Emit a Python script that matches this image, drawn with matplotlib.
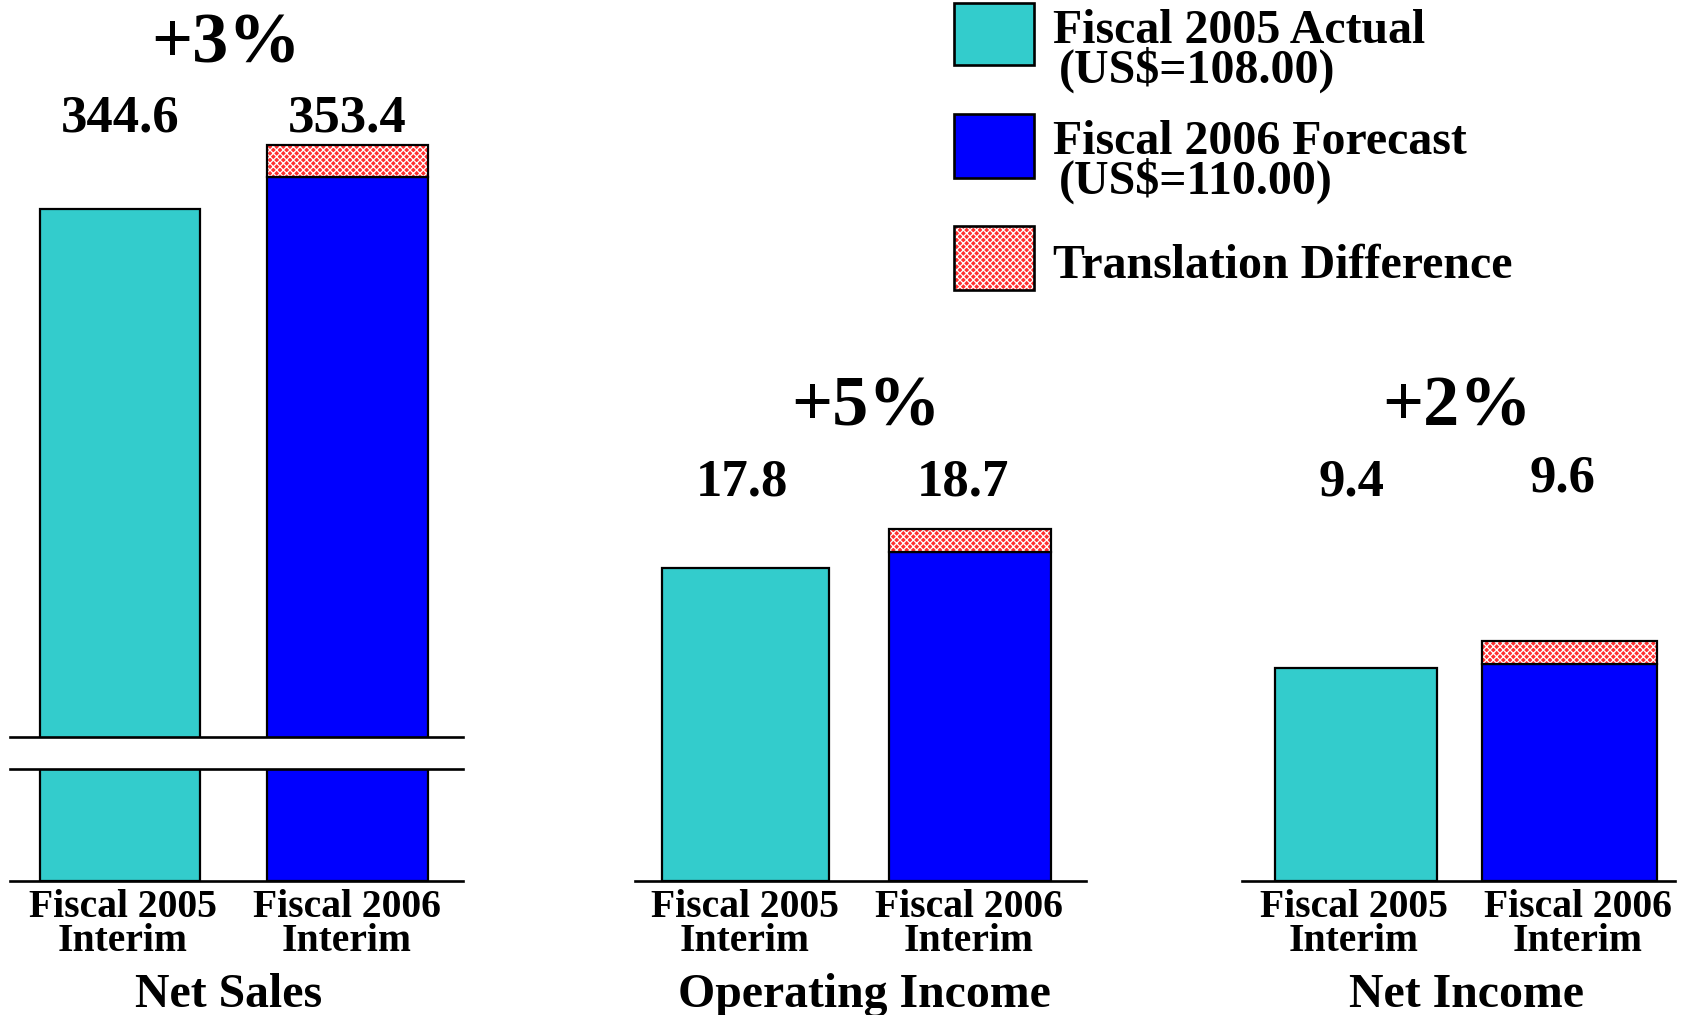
import matplotlib
matplotlib.use("Agg")
import matplotlib.pyplot as plt
from matplotlib.patches import Rectangle

# ---------------- data ----------------
panels = ["Net Sales", "Operating Income", "Net Income"]
bar_labels = ["Fiscal 2005\nInterim", "Fiscal 2006\nInterim"]
actual_2005 = [344.6, 17.8, 9.4]
forecast_2006 = [353.4, 18.7, 9.6]
translation_diff = [8.8, 1.3, 1.0]
growth = ["+3%", "+5%", "+2%"]
legend_labels = [("Fiscal 2005 Actual", "(US$=108.00)"),
                 ("Fiscal 2006 Forecast", "(US$=110.00)"),
                 ("Translation Difference", None)]

TEAL = "#33CCCC"
BLUE = "#0000FF"
RED = "#FF3030"

plt.rcParams["font.family"] = ["Liberation Serif", "DejaVu Serif"]
plt.rcParams["font.weight"] = "bold"
plt.rcParams["hatch.linewidth"] = 0.9

fig = plt.figure(figsize=(16.9, 10.15), dpi=100)
W, H = 1690.0, 1015.0
EDGE_LW = 1.6
SPINE_LW = 1.9


def rect(x0, y0, x1, y1):
    return [x0 / W, 1 - y1 / H, (x1 - x0) / W, (y1 - y0) / H]


def fx(x):
    return x / W


def fy(y):
    return 1 - y / H


def style(ax, spines):
    for s in ["top", "bottom", "left", "right"]:
        ax.spines[s].set_visible(s in spines)
        ax.spines[s].set_linewidth(SPINE_LW)
    ax.set_xticks([])
    ax.set_yticks([])
    ax.patch.set_alpha(0)


def draw_bars(ax, i, widths):
    xs = [0, 1]
    ax.bar(xs[0], actual_2005[i], widths[0], color=TEAL, edgecolor="black", linewidth=EDGE_LW, zorder=2)
    ax.bar(xs[1], forecast_2006[i], widths[1], color=BLUE, edgecolor="black", linewidth=EDGE_LW, zorder=2)
    ax.bar(xs[1], translation_diff[i], widths[1], bottom=forecast_2006[i], color=RED,
           edgecolor="white", hatch="xxxxx", linewidth=0, zorder=3)
    ax.bar(xs[1], translation_diff[i], widths[1], bottom=forecast_2006[i], fill=False,
           edgecolor="black", linewidth=EDGE_LW, zorder=4)


# ---- Net Sales: broken axis (two stacked axes) ----
k = 8.8 / 32.0  # value per pixel in the upper part
ax_top = fig.add_axes(rect(10, 40, 463, 736.7))
ax_top.set_xlim(-0.4835, 1.5077)
ax_top.set_ylim(344.6 - (736.7 - 208.7) * k, 344.6 + (208.7 - 40) * k)
draw_bars(ax_top, 0, (0.705, 0.705))
style(ax_top, ["bottom"])

ax_bot = fig.add_axes(rect(10, 768.7, 463, 880.7))
ax_bot.set_xlim(-0.4835, 1.5077)
ax_bot.set_ylim(0, 1)
draw_bars(ax_bot, 0, (0.705, 0.705))
style(ax_bot, ["top", "bottom"])

# ---- Operating Income ----
ax_oi = fig.add_axes(rect(635, 300, 1086, 880.5))
ax_oi.set_xlim(-0.492, 1.517)
ax_oi.set_ylim(0, 580.5 / 17.58)
draw_bars(ax_oi, 1, (0.74, 0.72))
style(ax_oi, ["bottom"])

# ---- Net Income ----
ax_ni = fig.add_axes(rect(1242, 300, 1675, 880.5))
ax_ni.set_xlim(-0.534, 1.494)
ax_ni.set_ylim(0, 580.5 / 22.6)
draw_bars(ax_ni, 2, (0.76, 0.82))
style(ax_ni, ["bottom"])

# ---- texts ----
pct_pos = [(226, 62), (866, 425), (1457, 425.7)]
val_pos = [((120, 131.7), (347.5, 131.7)), ((742, 495), (962.5, 495)), ((1351.5, 495), (1562.5, 491.7))]
lab_x = [(123, 347), (745, 969), (1354, 1578)]
title_x = [228.5, 864, 1467]

for i in range(3):
    fig.text(fx(pct_pos[i][0]), fy(pct_pos[i][1]), growth[i], ha="center", va="baseline",
             fontsize=52, fontweight="bold")
    vals = [actual_2005[i], forecast_2006[i]]
    for j in range(2):
        px, py = val_pos[i][j]
        fig.text(fx(px), fy(py), f"{vals[j]:.1f}", ha="center", va="baseline",
                 fontsize=38, fontweight="bold")
        l1, l2 = bar_labels[j].split("\n")
        fig.text(fx(lab_x[i][j]), fy(916.7), l1, ha="center", va="baseline", fontsize=28.5, fontweight="bold")
        fig.text(fx(lab_x[i][j]), fy(950.7), l2, ha="center", va="baseline", fontsize=28.5, fontweight="bold")
    fig.text(fx(title_x[i]), fy(1006.7), panels[i], ha="center", va="baseline", fontsize=34.4, fontweight="bold")

# ---- legend ----
box_y = [(3, 65), (114, 178), (226, 290)]
base1 = [43, 154, 278]
base2 = [83, 194, None]
face = [TEAL, BLUE, RED]
for i in range(3):
    y0, y1 = box_y[i]
    r = Rectangle((fx(954), fy(y1)), fx(1034) - fx(954), fy(y0) - fy(y1), transform=fig.transFigure,
                  facecolor=face[i], edgecolor="white" if i == 2 else "black",
                  hatch="xxxxx" if i == 2 else None, linewidth=0 if i == 2 else SPINE_LW)
    fig.add_artist(r)
    if i == 2:
        r2 = Rectangle((fx(954), fy(y1)), fx(1034) - fx(954), fy(y0) - fy(y1), transform=fig.transFigure,
                       fill=False, edgecolor="black", linewidth=SPINE_LW)
        fig.add_artist(r2)
    t1, t2 = legend_labels[i]
    fig.text(fx(1053), fy(base1[i]), t1, ha="left", va="baseline", fontsize=34.5, fontweight="bold")
    if t2:
        fig.text(fx(1059), fy(base2[i]), t2, ha="left", va="baseline", fontsize=34.5, fontweight="bold")

fig.savefig("out.png", dpi=100)
